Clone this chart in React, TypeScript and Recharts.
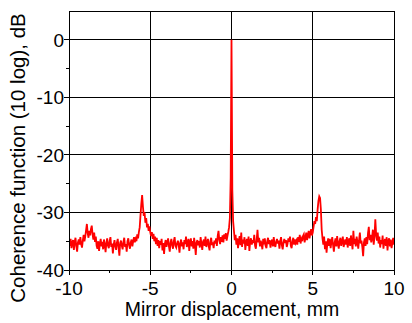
import React from "react";
import { LineChart, Line, XAxis, YAxis, CartesianGrid } from "recharts";

// Mirror displacement sampling (mm)
const X_START = -10;
const X_STEP = 0.05;

// Coherence function (10 log), dB, one value per 0.05 mm from -10 to 10
const COHERENCE_DB = [
  // -10.00 .. -9.05
  -35.0, -35.8, -34.6, -36.2, -35.3, -34.8, -36.5, -35.1, -34.4, -35.9, -36.8, -35.2, -34.7, -35.6, -34.3, -35.5, -36.1, -34.9, -33.9, -35.0,
  // -9.00 .. -8.05
  -34.2, -33.1, -32.0, -33.6, -34.4, -33.2, -34.0, -32.9, -32.3, -33.8, -34.7, -33.5, -35.1, -34.2, -35.8, -36.3, -35.0, -36.7, -35.4, -34.6,
  // -8.00 .. -7.05
  -35.9, -35.1, -36.4, -34.7, -35.6, -36.9, -35.3, -34.5, -35.8, -36.2, -35.0, -34.3, -36.0, -35.4, -37.1, -35.6, -34.8, -35.9, -36.5, -35.2,
  // -7.00 .. -6.05
  -34.6, -36.1, -37.5, -35.3, -34.9, -35.8, -36.4, -35.1, -34.4, -36.0, -35.5, -36.8, -35.0, -34.5, -35.7, -36.3, -35.2, -34.7, -35.9, -35.0,
  // -6.00 .. -5.05
  -34.3, -35.2, -34.6, -35.0, -33.8, -34.5, -33.4, -32.6, -30.5, -28.5, -27.0, -29.0, -30.6, -30.0, -31.8, -31.0, -32.6, -32.0, -33.2, -32.4,
  // -5.00 .. -4.05
  -33.4, -34.1, -33.4, -34.6, -33.7, -35.0, -34.2, -35.5, -34.4, -35.8, -34.8, -36.2, -35.0, -35.6, -34.6, -36.6, -35.3, -37.2, -35.4, -34.8,
  // -4.00 .. -3.05
  -36.0, -35.1, -34.5, -35.9, -36.8, -35.2, -34.6, -35.7, -36.3, -35.0, -34.3, -35.8, -36.1, -35.4, -34.9, -35.6, -37.0, -35.3, -34.7, -35.9,
  // -3.00 .. -2.05
  -35.2, -36.4, -34.8, -35.5, -34.2, -36.0, -35.3, -34.6, -36.7, -35.1, -34.5, -35.9, -35.0, -36.3, -34.4, -35.6, -37.4, -35.2, -34.8, -35.7,
  // -2.00 .. -1.05
  -35.0, -36.1, -34.3, -35.4, -36.5, -35.1, -34.7, -35.8, -34.2, -36.0, -35.3, -34.6, -35.9, -36.6, -35.0, -34.4, -35.7, -35.2, -36.2, -34.9,
  // -1.00 .. -0.05
  -35.4, -34.5, -35.8, -34.1, -33.2, -34.8, -35.5, -34.3, -35.1, -34.0, -35.2, -33.8, -34.6, -33.6, -34.9, -34.1, -33.4, -32.6, -31.0, -24.0,
  // 0.00
  0,
  // 0.05 .. 1.00
  -26.0, -31.5, -33.2, -34.8, -33.9, -35.6, -34.5, -36.2, -35.0, -34.1, -35.7, -33.5, -36.0, -34.7, -35.4, -34.3, -36.5, -35.1, -34.6, -35.8,
  // 1.05 .. 2.00
  -34.2, -36.7, -35.0, -34.5, -35.6, -34.8, -35.3, -33.9, -35.8, -36.3, -34.7, -33.0, -35.2, -34.4, -35.9, -34.9, -35.5, -36.4, -34.6, -35.1,
  // 2.05 .. 3.00
  -34.5, -35.8, -36.2, -35.0, -34.4, -35.5, -34.8, -36.1, -35.2, -34.7, -35.9, -34.3, -35.6, -36.0, -35.1, -34.6, -35.4, -34.9, -36.3, -35.0,
  // 3.05 .. 4.00
  -34.3, -35.7, -36.4, -35.2, -34.6, -35.3, -34.8, -36.0, -35.4, -34.5, -35.1, -34.2, -35.8, -36.2, -35.0, -34.4, -35.6, -34.7, -35.3, -34.9,
  // 4.05 .. 5.00
  -35.6, -34.3, -35.1, -33.9, -35.4, -34.6, -35.0, -34.1, -33.8, -35.2, -34.4, -33.5, -34.8, -33.9, -33.2, -34.5, -33.6, -32.9, -34.0, -33.5,
  // 5.05 .. 6.00
  -32.5, -31.5, -32.0, -30.8, -31.5, -29.5, -28.0, -27.2, -27.5, -29.5, -33.0, -34.5, -35.6, -34.2, -36.4, -35.0, -37.0, -35.3, -34.5, -35.8,
  // 6.05 .. 7.00
  -34.6, -36.2, -35.1, -34.3, -35.7, -36.8, -35.2, -34.5, -35.9, -34.1, -35.4, -36.3, -35.0, -34.4, -35.8, -35.1, -34.2, -36.0, -35.3, -34.7,
  // 7.05 .. 8.00
  -35.6, -34.3, -36.1, -35.0, -34.5, -35.8, -34.0, -35.3, -36.4, -33.2, -35.5, -34.6, -35.9, -34.2, -35.1, -36.3, -34.8, -33.5, -35.4, -34.9,
  // 8.05 .. 9.00
  -36.0, -37.6, -35.2, -34.5, -35.8, -34.3, -35.5, -33.6, -32.5, -34.8, -33.9, -35.2, -34.4, -33.0, -35.6, -34.2, -31.2, -33.8, -34.9, -33.5,
  // 9.05 .. 10.00
  -35.4, -34.2, -36.1, -34.8, -35.5, -34.0, -36.3, -35.1, -34.6, -35.8, -34.3, -36.6, -35.0, -34.5, -35.9, -34.7, -36.2, -35.3, -34.4, -35.6,
];

const X_DOMAIN: [number, number] = [-10, 10];
const Y_DOMAIN: [number, number] = [-40, 5];
const X_TICKS_MAJOR = [-10, -5, 0, 5, 10];
const X_TICKS_MINOR = [-7.5, -2.5, 2.5, 7.5];
const Y_TICKS_MAJOR = [-40, -30, -20, -10, 0];
const Y_TICKS_MINOR = [-35, -25, -15, -5];
const X_GRID = [-5, 0, 5, 10];
const Y_GRID = [-30, -20, -10, 0, 5];

const X_LABEL = "Mirror displacement, mm";
const Y_LABEL = "Coherence function (10 log), dB";

const data = COHERENCE_DB.map((v, i) => ({
  x: Math.round((X_START + i * X_STEP) * 100) / 100,
  y: v,
}));

const FONT = "'Liberation Sans', Arial, sans-serif";
const FS_TICK = 19;
const FS_XLABEL = 19.5;
const FS_YLABEL = 20.5;

const XTick = (props: any) => {
  const { x, y, payload } = props;
  const major = X_TICKS_MAJOR.includes(payload.value);
  return (
    <g>
      <line x1={x} x2={x} y1={y} y2={y + (major ? 5 : 3)} stroke="#000" strokeWidth={1} shapeRendering="crispEdges" />
      {major && (
        <text x={x} y={y + 25} textAnchor="middle" fontFamily={FONT} fontSize={FS_TICK} fill="#000">
          {payload.value}
        </text>
      )}
    </g>
  );
};

const YTick = (props: any) => {
  const { x, y, payload } = props;
  const major = Y_TICKS_MAJOR.includes(payload.value);
  return (
    <g>
      <line x1={x} x2={x - (major ? 5 : 3)} y1={y} y2={y} stroke="#000" strokeWidth={1} shapeRendering="crispEdges" />
      {major && (
        <text x={x - 5} y={y} dy="0.36em" textAnchor="end" fontFamily={FONT} fontSize={FS_TICK} fill="#000">
          {payload.value}
        </text>
      )}
    </g>
  );
};

const hGrid = ({ offset }: any) =>
  Y_GRID.map(
    (v) => offset.top + ((Y_DOMAIN[1] - v) / (Y_DOMAIN[1] - Y_DOMAIN[0])) * offset.height
  );
const vGrid = ({ offset }: any) =>
  X_GRID.map(
    (v) => offset.left + ((v - X_DOMAIN[0]) / (X_DOMAIN[1] - X_DOMAIN[0])) * offset.width
  );

export default function App() {
  return (
    <div style={{ position: "absolute", left: 0, top: 0, background: "#fff" }}>
      <LineChart
        width={412}
        height={323}
        data={data}
        margin={{ top: 11, right: 18, bottom: 0, left: 0 }}
      >
        <CartesianGrid
          stroke="#000"
          strokeWidth={1}
          shapeRendering="crispEdges"
          horizontalCoordinatesGenerator={hGrid}
          verticalCoordinatesGenerator={vGrid}
        />
        <XAxis
          dataKey="x"
          type="number"
          domain={X_DOMAIN}
          ticks={[...X_TICKS_MAJOR, ...X_TICKS_MINOR].sort((a, b) => a - b)}
          interval={0}
          height={53}
          tickSize={0}
          tickMargin={0}
          tick={<XTick />}
          tickLine={false}
          axisLine={{ stroke: "#000", strokeWidth: 1, shapeRendering: "crispEdges" }}
          allowDataOverflow
          label={{
            content: () => (
              <text x={232} y={316} textAnchor="middle" fontFamily={FONT} fontSize={FS_XLABEL} fill="#000">
                {X_LABEL}
              </text>
            ),
          }}
        />
        <YAxis
          type="number"
          domain={Y_DOMAIN}
          ticks={[...Y_TICKS_MAJOR, ...Y_TICKS_MINOR].sort((a, b) => a - b)}
          interval={0}
          width={69}
          tickSize={0}
          tickMargin={0}
          tick={<YTick />}
          tickLine={false}
          axisLine={{ stroke: "#000", strokeWidth: 1, shapeRendering: "crispEdges" }}
          allowDataOverflow
          label={{
            content: () => (
              <text
                x={25}
                y={158}
                textAnchor="middle"
                fontFamily={FONT}
                fontSize={FS_YLABEL}
                fill="#000"
                transform="rotate(-90 25 158)"
              >
                {Y_LABEL}
              </text>
            ),
          }}
        />
        <Line
          type="linear"
          dataKey="y"
          stroke="#ff0000"
          strokeWidth={1.8}
          dot={false}
          isAnimationActive={false}
        />
      </LineChart>
    </div>
  );
}
